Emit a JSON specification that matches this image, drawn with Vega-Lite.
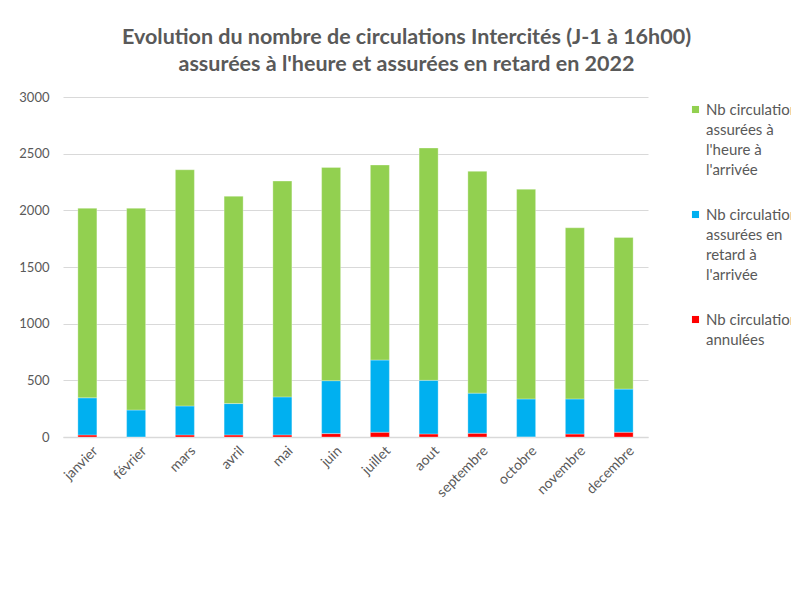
{
  "$schema": "https://vega.github.io/schema/vega-lite/v6.json",
  "width": 585,
  "height": 340,
  "autosize": {"type": "none"},
  "padding": {"left": 63, "top": 97, "right": 143, "bottom": 165},
  "background": "white",
  "title": {
    "text": ["Evolution du nombre de circulations Intercités (J-1 à 16h00)", "assurées à l'heure et assurées en retard en 2022"],
    "font": "Lato", "fontSize": 21.5, "fontWeight": "bold", "color": "#595959",
    "anchor": "middle", "frame": "group", "dx": 51, "offset": 16, "lineHeight": 27
  },
  "data": {
    "values": [
      {"mois": "janvier", "serie": "Nb circulations annulées", "valeur": 18},
      {"mois": "janvier", "serie": "Nb circulations assurées en retard à l'arrivée", "valeur": 328},
      {"mois": "janvier", "serie": "Nb circulations assurées à l'heure à l'arrivée", "valeur": 1672},
      {"mois": "février", "serie": "Nb circulations annulées", "valeur": 1},
      {"mois": "février", "serie": "Nb circulations assurées en retard à l'arrivée", "valeur": 237},
      {"mois": "février", "serie": "Nb circulations assurées à l'heure à l'arrivée", "valeur": 1780},
      {"mois": "mars", "serie": "Nb circulations annulées", "valeur": 18},
      {"mois": "mars", "serie": "Nb circulations assurées en retard à l'arrivée", "valeur": 256},
      {"mois": "mars", "serie": "Nb circulations assurées à l'heure à l'arrivée", "valeur": 2084},
      {"mois": "avril", "serie": "Nb circulations annulées", "valeur": 18},
      {"mois": "avril", "serie": "Nb circulations assurées en retard à l'arrivée", "valeur": 277},
      {"mois": "avril", "serie": "Nb circulations assurées à l'heure à l'arrivée", "valeur": 1829},
      {"mois": "mai", "serie": "Nb circulations annulées", "valeur": 18},
      {"mois": "mai", "serie": "Nb circulations assurées en retard à l'arrivée", "valeur": 336},
      {"mois": "mai", "serie": "Nb circulations assurées à l'heure à l'arrivée", "valeur": 1904},
      {"mois": "juin", "serie": "Nb circulations annulées", "valeur": 30},
      {"mois": "juin", "serie": "Nb circulations assurées en retard à l'arrivée", "valeur": 467},
      {"mois": "juin", "serie": "Nb circulations assurées à l'heure à l'arrivée", "valeur": 1882},
      {"mois": "juillet", "serie": "Nb circulations annulées", "valeur": 42},
      {"mois": "juillet", "serie": "Nb circulations assurées en retard à l'arrivée", "valeur": 637},
      {"mois": "juillet", "serie": "Nb circulations assurées à l'heure à l'arrivée", "valeur": 1721},
      {"mois": "aout", "serie": "Nb circulations annulées", "valeur": 27},
      {"mois": "aout", "serie": "Nb circulations assurées en retard à l'arrivée", "valeur": 473},
      {"mois": "aout", "serie": "Nb circulations assurées à l'heure à l'arrivée", "valeur": 2050},
      {"mois": "septembre", "serie": "Nb circulations annulées", "valeur": 33},
      {"mois": "septembre", "serie": "Nb circulations assurées en retard à l'arrivée", "valeur": 354},
      {"mois": "septembre", "serie": "Nb circulations assurées à l'heure à l'arrivée", "valeur": 1957},
      {"mois": "octobre", "serie": "Nb circulations annulées", "valeur": 1},
      {"mois": "octobre", "serie": "Nb circulations assurées en retard à l'arrivée", "valeur": 335},
      {"mois": "octobre", "serie": "Nb circulations assurées à l'heure à l'arrivée", "valeur": 1850},
      {"mois": "novembre", "serie": "Nb circulations annulées", "valeur": 26},
      {"mois": "novembre", "serie": "Nb circulations assurées en retard à l'arrivée", "valeur": 310},
      {"mois": "novembre", "serie": "Nb circulations assurées à l'heure à l'arrivée", "valeur": 1510},
      {"mois": "decembre", "serie": "Nb circulations annulées", "valeur": 42},
      {"mois": "decembre", "serie": "Nb circulations assurées en retard à l'arrivée", "valeur": 381},
      {"mois": "decembre", "serie": "Nb circulations assurées à l'heure à l'arrivée", "valeur": 1337}
    ]
  },
  "transform": [
    {"calculate": "indexof([\"Nb circulations annulées\", \"Nb circulations assurées en retard à l'arrivée\", \"Nb circulations assurées à l'heure à l'arrivée\"], datum.serie)", "as": "rang"}
  ],
  "mark": {"type": "bar", "stroke": "white", "strokeWidth": 0.6, "strokeOpacity": 0.5},
  "encoding": {
    "x": {
      "field": "mois", "type": "nominal",
      "sort": ["janvier", "février", "mars", "avril", "mai", "juin", "juillet", "aout", "septembre", "octobre", "novembre", "decembre"],
      "scale": {"paddingInner": 0.61, "paddingOuter": 0.305},
      "axis": {"title": null, "labelAngle": -45, "labelFont": "Lato", "labelFontSize": 14, "labelColor": "#595959", "ticks": false, "domainColor": "#d9d9d9", "domainWidth": 1.5, "labelPadding": 3}
    },
    "y": {
      "field": "valeur", "type": "quantitative", "stack": "zero",
      "scale": {"domain": [0, 3000], "nice": false},
      "axis": {"title": null, "values": [0, 500, 1000, 1500, 2000, 2500, 3000], "format": "d", "labelFont": "Lato", "labelFontSize": 13, "labelColor": "#595959", "ticks": false, "domain": false, "gridColor": "#d9d9d9", "gridWidth": 1, "labelPadding": 14, "labelOffset": -5}
    },
    "color": {
      "field": "serie", "type": "nominal",
      "scale": {
        "domain": ["Nb circulations assurées à l'heure à l'arrivée", "Nb circulations assurées en retard à l'arrivée", "Nb circulations annulées"],
        "range": ["#92D050", "#00B0F0", "#FF0000"]
      },
      "legend": {
        "title": null, "orient": "right", "offset": 35, "padding": 5,
        "symbolType": "square", "symbolSize": 50, "symbolStrokeWidth": 0,
        "labelFont": "Lato", "labelFontSize": 15, "labelColor": "#595959", "labelLimit": 200, "labelOffset": 3,
        "rowPadding": 29, "labelBaseline": "alphabetic",
        "labelExpr": "datum.label == \"Nb circulations annulées\" ? [\"Nb circulations\", \"annulées\"] : datum.label == \"Nb circulations assurées en retard à l'arrivée\" ? [\"Nb circulations\", \"assurées en\", \"retard à\", \"l'arrivée\"] : [\"Nb circulations\", \"assurées à\", \"l'heure à\", \"l'arrivée\"]"
      }
    },
    "order": {"field": "rang", "type": "quantitative"}
  },
  "config": {
    "view": {"stroke": null},
    "style": {"guide-label": {"lineHeight": 20, "dy": 5}}
  }
}
